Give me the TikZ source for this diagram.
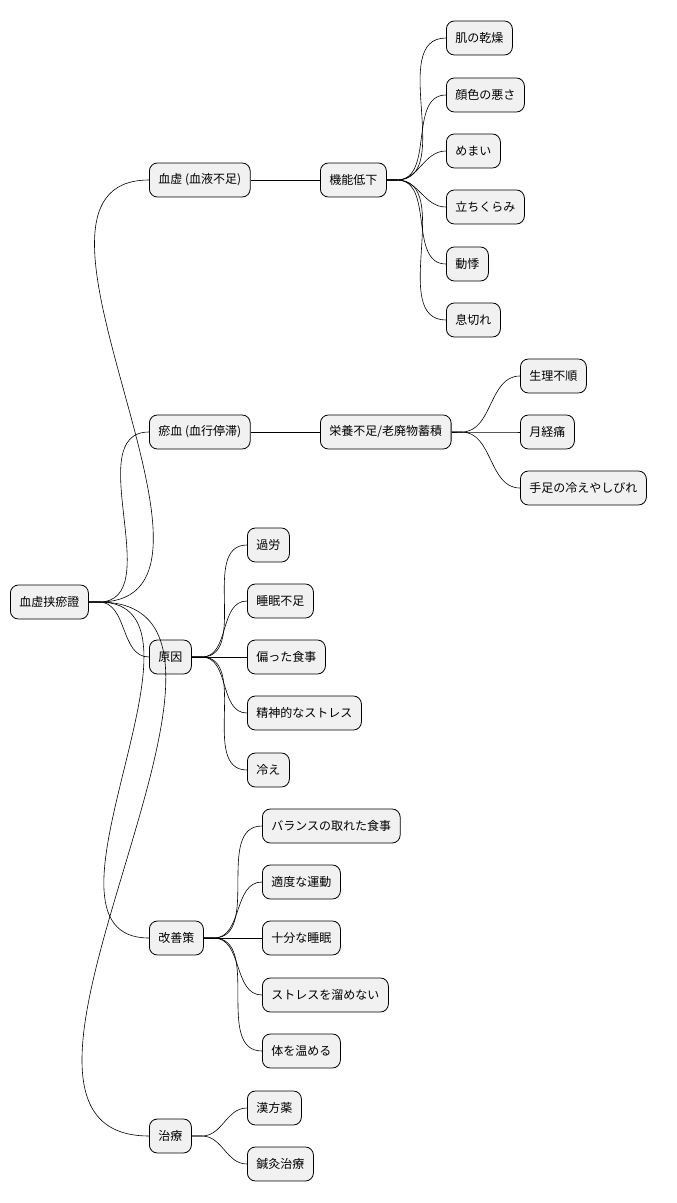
\documentclass[tikz,border=0pt]{standalone}
\usepackage{fontspec}
\setmainfont{Noto Sans CJK JP}
\usetikzlibrary{positioning}
\definecolor{boxfill}{HTML}{F1F1F1}
\tikzset{
  topic/.style={draw, fill=boxfill, rounded corners=8pt, line width=0.8pt,
    minimum height=34pt, inner xsep=9pt, anchor=west, font=\fontsize{12}{14}\selectfont},
  link/.style={line width=0.6pt}
}
\begin{document}
\begin{tikzpicture}[x=1pt,y=-1pt]
  \useasboundingbox (0,0) rectangle (677,1203);
  % root and main branches
  \node[topic] (root) at (10,602) {血虚挟瘀證};
  \node[topic] (kekkyo) at (149,180) {血虚 (血液不足)};
  \node[topic] (oketsu) at (149,432) {瘀血 (血行停滞)};
  \node[topic] (gen) at (149,657) {原因};
  \node[topic] (kaizen) at (149,938) {改善策};
  \node[topic] (chiryo) at (149,1136) {治療};
  \node[topic] (kino) at (320,180) {機能低下};
  \node[topic] (eiyo) at (320,432) {栄養不足/老廃物蓄積};
  % leaves
  \foreach \t/\y [count=\i] in {肌の乾燥/38, 顔色の悪さ/95, めまい/151, 立ちくらみ/207, 動悸/264, 息切れ/320}
    \node[topic] (kino\i) at (446,\y) {\t};
  \foreach \t/\y [count=\i] in {生理不順/376, 月経痛/432, 手足の冷えやしびれ/488}
    \node[topic] (eiyo\i) at (520,\y) {\t};
  \foreach \t/\y [count=\i] in {過労/545, 睡眠不足/601, 偏った食事/657, 精神的なストレス/713, 冷え/770}
    \node[topic] (gen\i) at (247,\y) {\t};
  \foreach \t/\y [count=\i] in {バランスの取れた食事/826, 適度な運動/882, 十分な睡眠/938, ストレスを溜めない/995, 体を温める/1051}
    \node[topic] (kaizen\i) at (262,\y) {\t};
  \foreach \t/\y [count=\i] in {漢方薬/1108, 鍼灸治療/1164}
    \node[topic] (chiryo\i) at (247,\y) {\t};
  % connectors
  \foreach \c in {kekkyo, oketsu, gen, kaizen, chiryo}
    \draw[link] (root.east) -- ++(10,0) to[out=0,in=180] (\c.west);
  \draw[link] (kekkyo) -- (kino);
  \draw[link] (oketsu) -- (eiyo);
  \foreach \i in {1,...,6}
    \draw[link] (kino.east) -- ++(10,0) to[out=0,in=180] (kino\i.west);
  \foreach \i in {1,...,3}
    \draw[link] (eiyo.east) -- ++(10,0) to[out=0,in=180] (eiyo\i.west);
  \foreach \i in {1,...,5}
    \draw[link] (gen.east) -- ++(10,0) to[out=0,in=180] (gen\i.west);
  \foreach \i in {1,...,5}
    \draw[link] (kaizen.east) -- ++(10,0) to[out=0,in=180] (kaizen\i.west);
  \foreach \i in {1,2}
    \draw[link] (chiryo.east) -- ++(10,0) to[out=0,in=180] (chiryo\i.west);
\end{tikzpicture}
\end{document}
